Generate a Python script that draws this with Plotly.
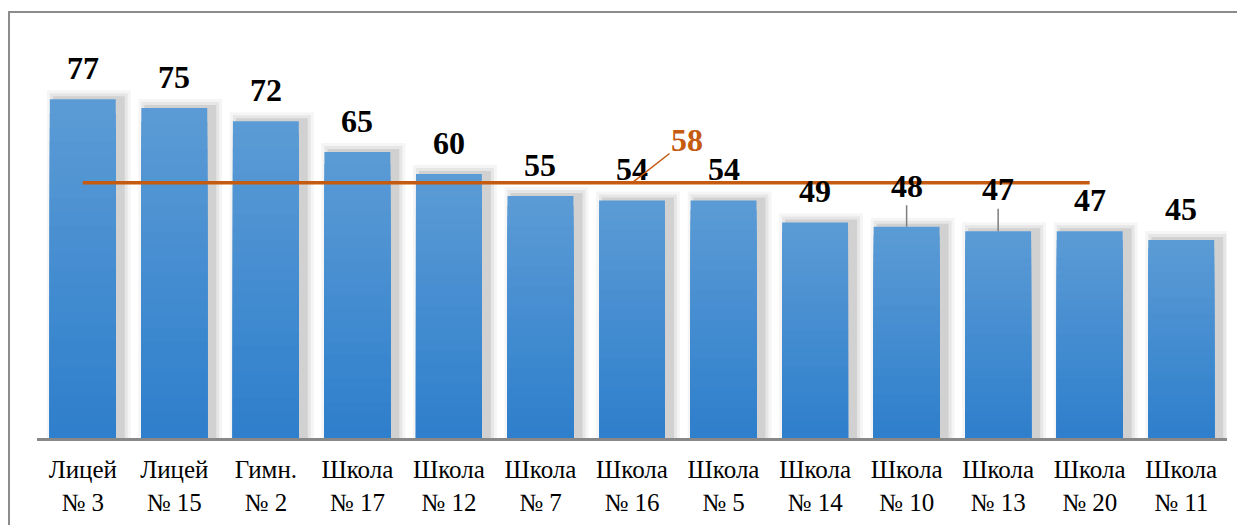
import plotly.graph_objects as go

categories = ["Лицей<br>№ 3", "Лицей<br>№ 15", "Гимн.<br>№ 2", "Школа<br>№ 17", "Школа<br>№ 12",
              "Школа<br>№ 7", "Школа<br>№ 16", "Школа<br>№ 5", "Школа<br>№ 14", "Школа<br>№ 10",
              "Школа<br>№ 13", "Школа<br>№ 20", "Школа<br>№ 11"]
values = [77, 75, 72, 65, 60, 55, 54, 54, 49, 48, 47, 47, 45]
average = 58
avg_span = 12  # line drawn across first 12 categories
leader_labels = {9: -41, 10: -42}  # labels lifted with leader lines

FONT = "Liberation Serif, serif"
BAR_W = 0.72
PX_X = 91.5   # px per category
PX_Y = 4.4    # px per unit
TOP_RGB = (0x5B, 0x9B, 0xD5)
BOT_RGB = (0x2F, 0x7F, 0xCC)
N_GRAD = 24

fig = go.Figure()

# soft shadow layers (offset to the right)
SHIFT = 6
for d, op in [(9, 0.04), (6, 0.06), (3, 0.09)]:
    fig.add_trace(go.Bar(
        x=categories, y=[v + d / PX_Y for v in values],
        width=BAR_W + 2 * d / PX_X, offset=-BAR_W / 2 - d / PX_X + SHIFT / PX_X,
        marker=dict(color=f"rgba(0,0,0,{op})", line=dict(width=0)),
        hoverinfo="skip", showlegend=False))

# main bars (top colour) + vertical gradient layers
fig.add_trace(go.Bar(
    x=categories, y=values, width=BAR_W, offset=-BAR_W / 2,
    marker=dict(color="rgb(%d,%d,%d)" % TOP_RGB, line=dict(width=0)),
    showlegend=False))
for k in range(1, N_GRAD):
    t = k / (N_GRAD - 1)
    col = tuple(round(a + (b - a) * t) for a, b in zip(TOP_RGB, BOT_RGB))
    frac = 1 - k / N_GRAD
    fig.add_trace(go.Bar(
        x=categories, y=[v * frac for v in values], width=BAR_W, offset=-BAR_W / 2,
        marker=dict(color="rgb(%d,%d,%d)" % col, line=dict(width=0)),
        hoverinfo="skip", showlegend=False))

fig.add_trace(go.Scatter(
    x=categories[:avg_span], y=[average] * avg_span, mode="lines",
    line=dict(color="#C55A11", width=3.5), showlegend=False))

annotations = []
for i, (c, v) in enumerate(zip(categories, values)):
    if i in leader_labels:
        annotations.append(dict(
            x=c, y=v, text=f"<b>{v}</b>", showarrow=True, arrowhead=0,
            arrowwidth=1.5, arrowcolor="#7f7f7f", ax=0, ay=leader_labels[i], standoff=0,
            font=dict(family=FONT, size=32, color="black")))
    else:
        annotations.append(dict(
            x=c, y=v, text=f"<b>{v}</b>", showarrow=False, yanchor="bottom", yshift=11,
            font=dict(family=FONT, size=32, color="black")))

annotations.append(dict(
    x=categories[6], y=average, text=f"<b>{average}</b>", showarrow=True, arrowhead=0,
    arrowwidth=1.5, arrowcolor="#C55A11", ax=55, ay=-43, standoff=0,
    font=dict(family=FONT, size=32, color="#C55A11")))

fig.update_layout(
    width=1237, height=517,
    margin=dict(l=29, r=18, t=34, b=87, autoexpand=False),
    paper_bgcolor="white", plot_bgcolor="white",
    barmode="overlay", bargap=0.28,
    annotations=annotations,
    xaxis=dict(showline=True, linecolor="#888888", linewidth=3, showgrid=False,
               ticks="", tickfont=dict(family=FONT, size=25, color="black"),
               ticklabelstandoff=7, automargin=False,
               range=[-0.5, 12.5], fixedrange=True),
    yaxis=dict(visible=False, range=[0, 90], showgrid=False, fixedrange=True),
    shapes=[dict(type="rect", xref="paper", yref="paper",
                 x0=(1 - 29) / 1190, x1=1.2, y0=-0.5, y1=(396 + 30) / 396,
                 line=dict(color="#8c8c8c", width=2), layer="below")],
)

fig.write_html("out.html")
